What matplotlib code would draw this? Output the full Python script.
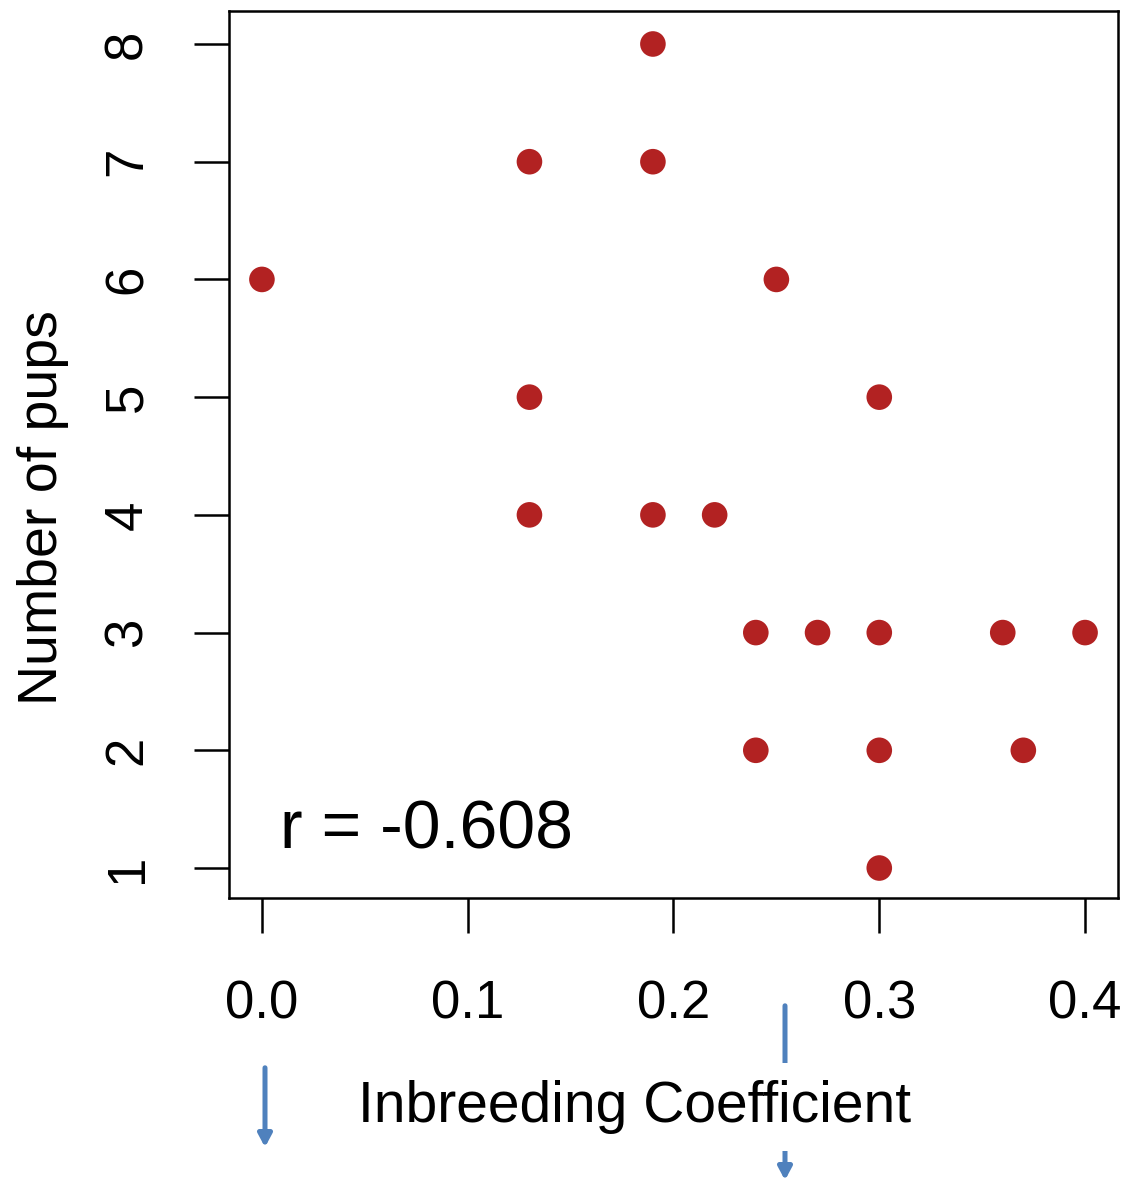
import matplotlib
matplotlib.use("Agg")
import matplotlib.pyplot as plt

plt.rcParams['font.family'] = ['Liberation Sans', 'DejaVu Sans']

# inbreeding coefficient vs litter size
inbreeding = [0.00, 0.13, 0.13, 0.13, 0.19, 0.19, 0.19, 0.22, 0.25, 0.30,
              0.24, 0.27, 0.30, 0.36, 0.40, 0.24, 0.30, 0.37, 0.30]
pups = [6, 7, 5, 4, 8, 7, 4, 4, 6, 5,
        3, 3, 3, 3, 3, 2, 2, 2, 1]
r_value = -0.608

x_ticks = [0.0, 0.1, 0.2, 0.3, 0.4]
x_ticklabels = ['0.0', '0.1', '0.2', '0.3', '0.4']
y_ticks = [1, 2, 3, 4, 5, 6, 7, 8]

fig = plt.figure(figsize=(11.27, 11.86), dpi=100)
ax = fig.add_axes([0.2032, 0.2428, 0.7888, 0.7479])

ax.scatter(inbreeding, pups, s=340, color='#b22222', edgecolors='none', zorder=3)

ax.set_xlim(-0.016, 0.416)
ax.set_ylim(0.745, 8.28)
ax.set_xticks(x_ticks)
ax.set_xticklabels(x_ticklabels)
ax.set_yticks(y_ticks)
ax.set_yticklabels([str(v) for v in y_ticks], rotation=90, va='center')

for sp in ax.spines.values():
    sp.set_linewidth(1.8)
ax.tick_params(axis='both', length=25, width=1.8, labelsize=38)
ax.tick_params(axis='x', pad=34)
ax.tick_params(axis='y', pad=30)

ax.text(0.0087, 1.17, f'r = {r_value}', fontsize=49, va='baseline', ha='left')

# y label, baseline just left of the tick labels
fig.text(57 / 1127, 1 - 508 / 1186, 'Number of pups', fontsize=40, rotation=90,
         rotation_mode='anchor', ha='center', va='baseline')

# blue arrows below the axis
arrow_kw = dict(arrowstyle='-|>,head_length=0.75,head_width=0.4', color='#4f81bd', lw=3.6)
ax.annotate('', xy=(265 / 1127, 1 - 1150 / 1186), xytext=(265 / 1127, 1 - 1065 / 1186),
            xycoords='figure fraction', arrowprops=arrow_kw)
ax.annotate('', xy=(785 / 1127, 1 - 1183 / 1186), xytext=(785 / 1127, 1 - 1003 / 1186),
            xycoords='figure fraction', arrowprops=arrow_kw)

fig.text(635 / 1127, 1 - 1107 / 1186, 'Inbreeding Coefficient', fontsize=41,
         ha='center', va='center', zorder=5,
         bbox=dict(facecolor='white', edgecolor='none', pad=12))

fig.savefig('out.png', dpi=100)
